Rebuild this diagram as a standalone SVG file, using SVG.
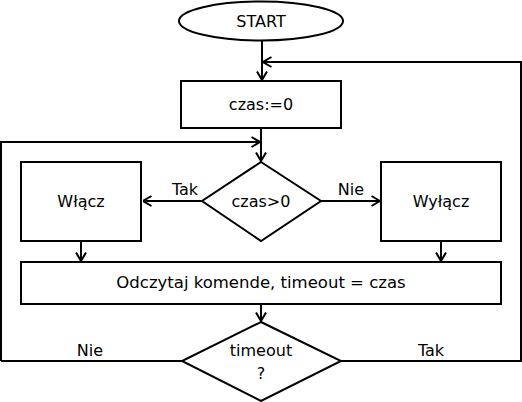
<svg xmlns="http://www.w3.org/2000/svg" width="522" height="402" viewBox="0 0 522 402">
<style>
.s{fill:#fff;stroke:#000;stroke-width:2}
.c{fill:none;stroke:#000;stroke-width:2}
text{font-family:"DejaVu Sans",sans-serif;font-size:16px;fill:#000;text-anchor:middle;dominant-baseline:central}
</style>
<defs>
<marker id="a" viewBox="0 0 10 12" refX="9.5" refY="6" markerWidth="10" markerHeight="12" markerUnits="userSpaceOnUse" orient="auto">
<path d="M1,1 L9.5,6 L1,11" fill="none" stroke="#000" stroke-width="2"/>
</marker>
</defs>
<g id="connectors">
<path class="c" d="M262,41 V80" marker-end="url(#a)"/>
<path class="c" d="M521,62 H263" marker-end="url(#a)"/>
<path class="c" d="M261,128 V161" marker-end="url(#a)"/>
<path class="c" d="M1,361 V142 H260" marker-end="url(#a)"/>
<path class="c" d="M202,201 H143" marker-end="url(#a)"/>
<path class="c" d="M321,201 H380" marker-end="url(#a)"/>
<path class="c" d="M81,241 V261" marker-end="url(#a)"/>
<path class="c" d="M441,241 V261" marker-end="url(#a)"/>
<path class="c" d="M261,304 V321" marker-end="url(#a)"/>
<path class="c" d="M182,361 H1"/>
<path class="c" d="M341,361 H521 V61"/>
<text x="185" y="189">Tak</text>
<text x="351" y="189">Nie</text>
<text x="90" y="350">Nie</text>
<text x="431" y="350">Tak</text>
</g>
<g id="start">
<ellipse class="s" cx="261" cy="21" rx="82" ry="19.5"/>
<text x="261" y="21">START</text>
</g>
<g id="init">
<rect class="s" x="181" y="81" width="160" height="47"/>
<text x="261" y="104">czas:=0</text>
</g>
<g id="check">
<polygon class="s" points="261,162 321,201 261,241 202,201"/>
<text x="261" y="201">czas&gt;0</text>
</g>
<g id="on">
<rect class="s" x="21" y="162" width="120" height="79"/>
<text x="81" y="201">Włącz</text>
</g>
<g id="off">
<rect class="s" x="381" y="162" width="120" height="79"/>
<text x="441" y="201">Wyłącz</text>
</g>
<g id="read">
<rect class="s" x="21" y="262" width="480" height="42"/>
<text x="261" y="282" style="font-size:16.5px">Odczytaj komende, timeout = czas</text>
</g>
<g id="timeout">
<polygon class="s" points="261,322 341,361 261,401 182,361"/>
<text x="261" y="350">timeout</text>
<text x="261" y="373">?</text>
</g>
</svg>
